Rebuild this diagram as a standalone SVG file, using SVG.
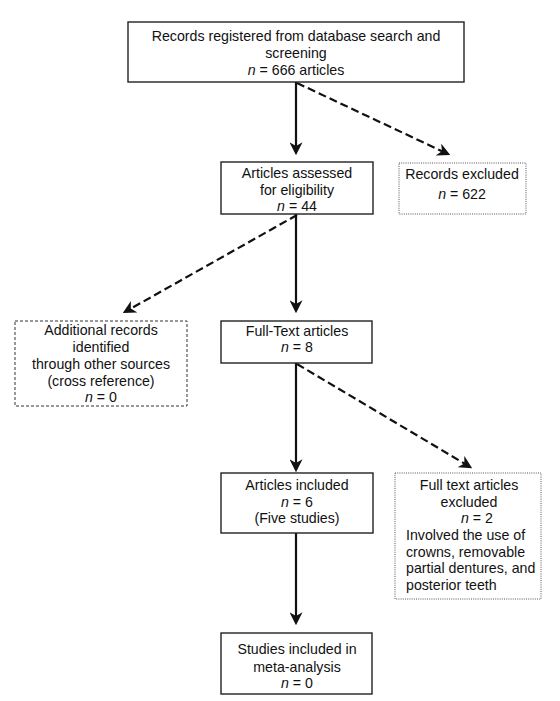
<svg xmlns="http://www.w3.org/2000/svg" width="560" height="701" viewBox="0 0 560 701">
<style>
text{font-family:"Liberation Sans",Arial,sans-serif;font-size:14.2px;fill:#111;}
.c{text-anchor:middle;}
.box{fill:#fff;stroke:#222;stroke-width:1.4;}
.dash{fill:#fff;stroke:#333;stroke-width:1;stroke-dasharray:3 2;}
.dot{fill:#fff;stroke:#555;stroke-width:1;stroke-dasharray:1 1.2;}
.solid{stroke:#111;stroke-width:2.2;fill:none;marker-end:url(#ah);}
.dl{stroke:#111;stroke-width:2.2;fill:none;stroke-dasharray:8 4;marker-end:url(#ah);}
</style>
<defs>
<marker id="ah" viewBox="0 0 12 12" refX="9" refY="6" markerWidth="13" markerHeight="13" markerUnits="userSpaceOnUse" orient="auto">
<path d="M0,0 L12,6 L0,12 L3.5,6 z" fill="#111"/>
</marker>
</defs>
<rect width="560" height="701" fill="#fff"/>
<g id="connectors">
<line class="solid" x1="296" y1="82" x2="296" y2="152"/>
<line class="dl" x1="297" y1="83" x2="447.3" y2="153.7"/>
<line class="solid" x1="296" y1="214" x2="296" y2="310"/>
<line class="dl" x1="297" y1="215" x2="125.6" y2="311.5"/>
<line class="solid" x1="296" y1="363" x2="296" y2="469"/>
<line class="dl" x1="297" y1="364" x2="469.4" y2="466.5"/>
<line class="solid" x1="296" y1="533" x2="296" y2="622"/>
</g>
<g id="records">
<rect class="box" x="128" y="22" width="336" height="60"/>
<text class="c" x="296" y="41">Records registered from database search and</text>
<text class="c" x="296" y="58">screening</text>
<text class="c" x="296" y="75"><tspan font-style="italic">n</tspan> = 666 articles</text>
</g>
<g id="assessed">
<rect class="box" x="221" y="162" width="152" height="52"/>
<text class="c" x="297" y="178">Articles assessed</text>
<text class="c" x="297" y="195">for eligibility</text>
<text class="c" x="297" y="211"><tspan font-style="italic">n</tspan> = 44</text>
</g>
<g id="excluded">
<rect class="dot" x="399" y="163" width="127" height="51"/>
<text class="c" x="462" y="179">Records excluded</text>
<text class="c" x="462" y="199"><tspan font-style="italic">n</tspan> = 622</text>
</g>
<g id="additional">
<rect class="dash" x="15" y="321" width="172" height="85"/>
<text class="c" x="101" y="335">Additional records</text>
<text class="c" x="101" y="352">identified</text>
<text class="c" x="101" y="369">through other sources</text>
<text class="c" x="101" y="386">(cross reference)</text>
<text class="c" x="101" y="402"><tspan font-style="italic">n</tspan> = 0</text>
</g>
<g id="fulltext">
<rect class="box" x="221" y="321" width="151" height="42"/>
<text class="c" x="297" y="336">Full-Text articles</text>
<text class="c" x="297" y="352"><tspan font-style="italic">n</tspan> = 8</text>
</g>
<g id="included">
<rect class="box" x="221" y="473" width="152" height="60"/>
<text class="c" x="297" y="490">Articles included</text>
<text class="c" x="297" y="507"><tspan font-style="italic">n</tspan> = 6</text>
<text class="c" x="297" y="523">(Five studies)</text>
</g>
<g id="ftexcluded">
<rect class="dot" x="395" y="473" width="146" height="126"/>
<text class="c" x="469" y="490">Full text articles</text>
<text class="c" x="469" y="507">excluded</text>
<text class="c" x="477" y="523"><tspan font-style="italic">n</tspan> = 2</text>
<text x="406" y="540">Involved the use of</text>
<text x="406" y="557">crowns, removable</text>
<text x="406" y="573">partial dentures, and</text>
<text x="406" y="590">posterior teeth</text>
</g>
<g id="meta">
<rect class="box" x="221" y="633" width="151" height="61"/>
<text class="c" x="297" y="654">Studies included in</text>
<text class="c" x="297" y="672">meta-analysis</text>
<text class="c" x="297" y="688"><tspan font-style="italic">n</tspan> = 0</text>
</g>
</svg>
